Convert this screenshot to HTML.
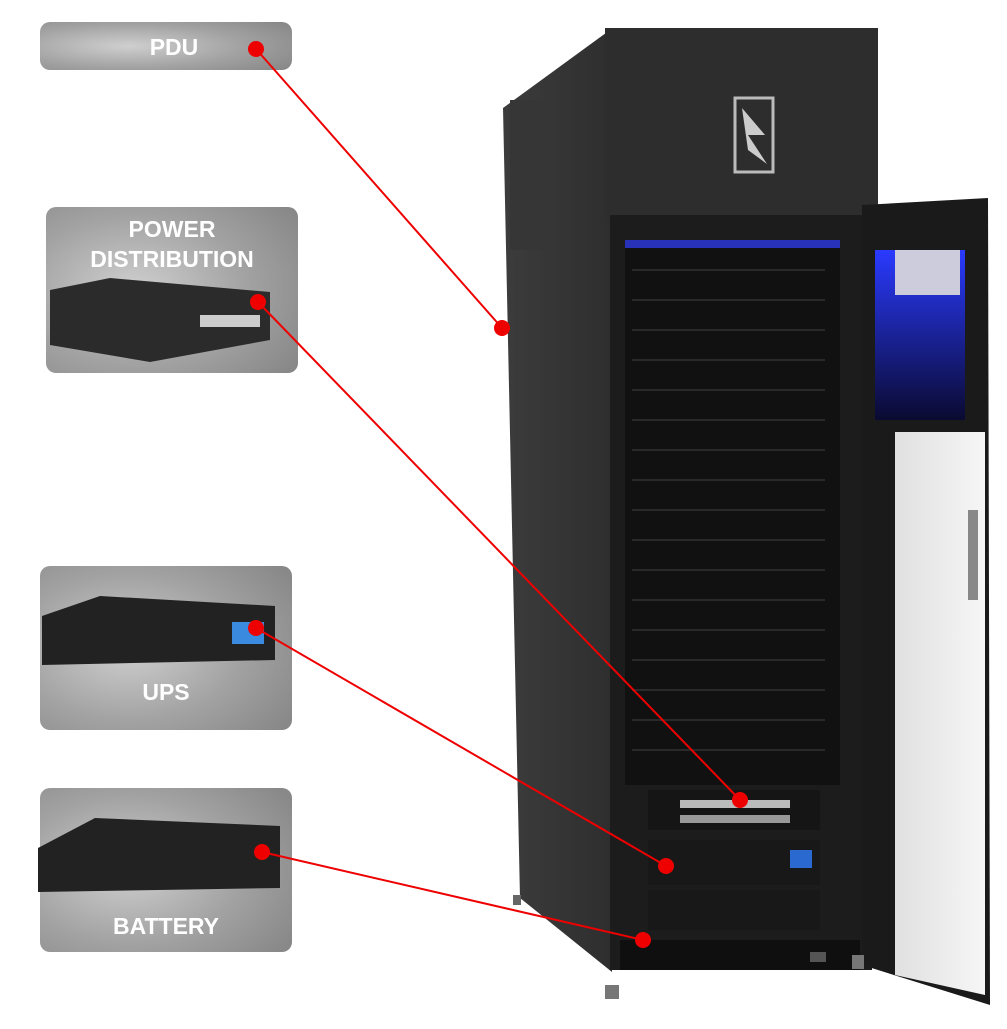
<!DOCTYPE html>
<html><head><meta charset="utf-8"><style>
body{margin:0;background:#fff;width:1007px;height:1024px;overflow:hidden;font-family:"Liberation Sans",sans-serif}
</style></head><body>
<svg width="1007" height="1024" viewBox="0 0 1007 1024" xmlns="http://www.w3.org/2000/svg">
<defs>
<radialGradient id="g1" cx="0.35" cy="0.5" r="0.9"><stop offset="0" stop-color="#cfcfcf"/><stop offset="0.5" stop-color="#a2a2a2"/><stop offset="1" stop-color="#7f7f7f"/></radialGradient>
<linearGradient id="side" x1="0" x2="1"><stop offset="0" stop-color="#3c3c3c"/><stop offset="1" stop-color="#2e2e2e"/></linearGradient>
<linearGradient id="blue" x1="0" x2="0" y1="0" y2="1"><stop offset="0" stop-color="#2a3aff"/><stop offset="1" stop-color="#0a0a30"/></linearGradient>
<linearGradient id="glass" x1="0" x2="1"><stop offset="0" stop-color="#e0e0e0"/><stop offset="1" stop-color="#f6f6f6"/></linearGradient>
</defs>
<rect x="40" y="22" width="252" height="48" rx="10" fill="url(#g1)"/>
<text x="174" y="55" font-size="23" font-weight="bold" fill="#fff" text-anchor="middle">PDU</text>
<rect x="46" y="207" width="252" height="166" rx="10" fill="url(#g1)"/>
<text x="172" y="237" font-size="23" font-weight="bold" fill="#fff" text-anchor="middle">POWER</text>
<text x="172" y="267" font-size="23" font-weight="bold" fill="#fff" text-anchor="middle">DISTRIBUTION</text>
<polygon points="50,290 110,278 270,292 270,340 150,362 50,345" fill="#2b2b2b"/>
<rect x="200" y="315" width="60" height="12" fill="#ccc"/>
<rect x="40" y="566" width="252" height="164" rx="10" fill="url(#g1)"/>
<polygon points="42,616 100,596 275,606 275,660 42,665" fill="#222"/>
<rect x="232" y="622" width="32" height="22" fill="#3a8ae0"/>
<text x="166" y="700" font-size="23" font-weight="bold" fill="#fff" text-anchor="middle">UPS</text>
<rect x="40" y="788" width="252" height="164" rx="10" fill="url(#g1)"/>
<polygon points="38,848 95,818 280,826 280,888 38,892" fill="#222"/>
<text x="166" y="934" font-size="23" font-weight="bold" fill="#fff" text-anchor="middle">BATTERY</text>
<polygon points="503,108 610,30 612,972 520,898" fill="url(#side)"/>
<rect x="510" y="100" width="35" height="150" fill="#363636"/>
<rect x="605" y="28" width="273" height="190" fill="#2d2d2d"/>
<rect x="735" y="98" width="38" height="74" fill="none" stroke="#bbb" stroke-width="3"/>
<polygon points="742,108 765,135 748,135 767,164 748,150" fill="#ccc"/>
<rect x="610" y="215" width="262" height="755" fill="#1c1c1c"/>
<rect x="625" y="240" width="215" height="545" fill="#111"/>
<rect x="625" y="240" width="215" height="8" fill="#3040ff" opacity="0.7"/>
<g stroke="#2a2a2a" stroke-width="2">
<line x1="632" y1="270" x2="825" y2="270"/><line x1="632" y1="300" x2="825" y2="300"/><line x1="632" y1="330" x2="825" y2="330"/><line x1="632" y1="360" x2="825" y2="360"/><line x1="632" y1="390" x2="825" y2="390"/><line x1="632" y1="420" x2="825" y2="420"/><line x1="632" y1="450" x2="825" y2="450"/><line x1="632" y1="480" x2="825" y2="480"/><line x1="632" y1="510" x2="825" y2="510"/><line x1="632" y1="540" x2="825" y2="540"/><line x1="632" y1="570" x2="825" y2="570"/><line x1="632" y1="600" x2="825" y2="600"/><line x1="632" y1="630" x2="825" y2="630"/><line x1="632" y1="660" x2="825" y2="660"/><line x1="632" y1="690" x2="825" y2="690"/><line x1="632" y1="720" x2="825" y2="720"/><line x1="632" y1="750" x2="825" y2="750"/>
</g>
<rect x="648" y="790" width="172" height="40" fill="#151515"/>
<rect x="680" y="800" width="110" height="8" fill="#bbb"/><rect x="680" y="815" width="110" height="8" fill="#999"/>
<rect x="648" y="840" width="172" height="45" fill="#181818"/>
<rect x="790" y="850" width="22" height="18" fill="#2a6ad0"/>
<rect x="648" y="890" width="172" height="40" fill="#181818"/>
<rect x="620" y="940" width="240" height="30" fill="#0f0f0f"/>
<polygon points="862,205 988,198 990,1005 862,965" fill="#1a1a1a"/>
<rect x="875" y="250" width="90" height="170" fill="url(#blue)"/>
<rect x="895" y="250" width="65" height="45" fill="#ccd"/>
<polygon points="895,432 985,432 985,995 895,975" fill="url(#glass)"/>
<rect x="968" y="510" width="10" height="90" fill="#888"/>
<rect x="605" y="985" width="14" height="14" fill="#777"/><rect x="852" y="955" width="12" height="14" fill="#777"/><rect x="810" y="952" width="16" height="10" fill="#555"/><rect x="513" y="895" width="8" height="10" fill="#666"/>
<g stroke="#e00" stroke-width="2">
<line x1="256" y1="49" x2="502" y2="328"/><line x1="258" y1="302" x2="740" y2="800"/><line x1="256" y1="628" x2="666" y2="866"/><line x1="262" y1="852" x2="643" y2="940"/>
</g>
<g fill="#e00">
<circle cx="256" cy="49" r="8"/><circle cx="502" cy="328" r="8"/><circle cx="258" cy="302" r="8"/><circle cx="740" cy="800" r="8"/><circle cx="256" cy="628" r="8"/><circle cx="666" cy="866" r="8"/><circle cx="262" cy="852" r="8"/><circle cx="643" cy="940" r="8"/>
</g>
</svg>
</body></html>
